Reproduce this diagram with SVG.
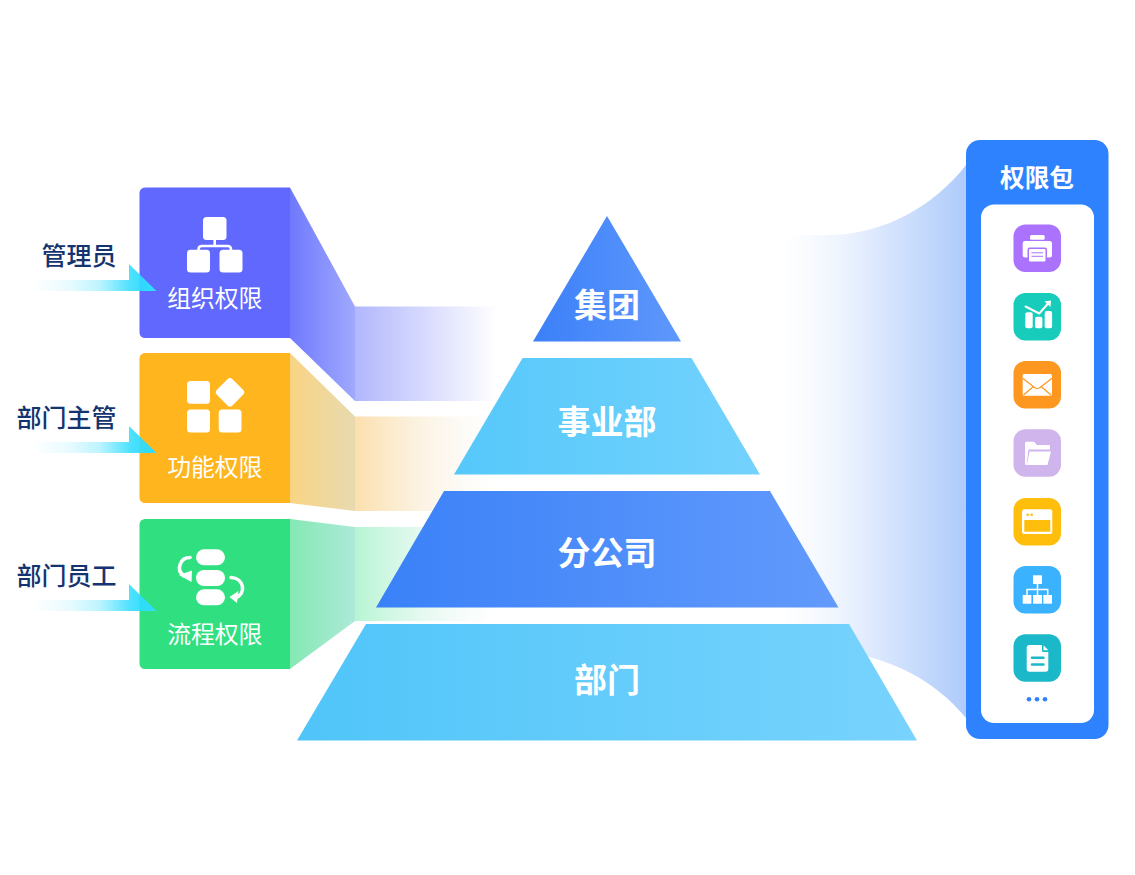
<svg xmlns="http://www.w3.org/2000/svg" width="1135" height="875" viewBox="0 0 1135 875">
<style>
text{font-family:"Noto Sans CJK SC","Noto Sans",sans-serif;text-anchor:middle}
.role{font-size:25px;font-weight:500;fill:#14346f}
.perm{font-size:23.8px;fill:#fff}
.tier{font-size:33px;font-weight:700;fill:#fff}
.w{fill:#fff}
.ws{fill:none;stroke:#fff;stroke-linecap:round;stroke-linejoin:round}
</style>
<defs>
<linearGradient id="gFan1" gradientUnits="userSpaceOnUse" x1="290" y1="0" x2="355" y2="0"><stop offset="0" stop-color="#6f79fd"/><stop offset="1" stop-color="#a0a9fd"/></linearGradient>
<linearGradient id="gBand1" gradientUnits="userSpaceOnUse" x1="355" y1="0" x2="497" y2="0"><stop offset="0" stop-color="#b1b7fc"/><stop offset="1" stop-color="#b1b7fc" stop-opacity="0"/></linearGradient>
<linearGradient id="gFan2" gradientUnits="userSpaceOnUse" x1="290" y1="0" x2="355" y2="0"><stop offset="0" stop-color="#f9d483"/><stop offset="1" stop-color="#e7dab0"/></linearGradient>
<linearGradient id="gBand2" gradientUnits="userSpaceOnUse" x1="355" y1="0" x2="497" y2="0"><stop offset="0" stop-color="#fcdfac"/><stop offset="1" stop-color="#f5f2ea" stop-opacity="0"/></linearGradient>
<linearGradient id="gFan3" gradientUnits="userSpaceOnUse" x1="290" y1="0" x2="355" y2="0"><stop offset="0" stop-color="#84e9b4"/><stop offset="1" stop-color="#ade9d8"/></linearGradient>
<linearGradient id="gBand3" gradientUnits="userSpaceOnUse" x1="355" y1="0" x2="497" y2="0"><stop offset="0" stop-color="#b6f5d3"/><stop offset="1" stop-color="#e8f3f3" stop-opacity="0"/></linearGradient>
<linearGradient id="gGlow" gradientUnits="userSpaceOnUse" x1="785" y1="0" x2="966" y2="0"><stop offset="0" stop-color="#aecbfb" stop-opacity="0"/><stop offset="0.3" stop-color="#aecbfb" stop-opacity="0.2"/><stop offset="1" stop-color="#aecbfb"/></linearGradient>
<linearGradient id="gArrow" gradientUnits="userSpaceOnUse" x1="33" y1="0" x2="150" y2="0"><stop offset="0" stop-color="#2fdcfe" stop-opacity="0"/><stop offset="0.32" stop-color="#2fdcfe" stop-opacity="0.12"/><stop offset="0.57" stop-color="#2fdcfe" stop-opacity="0.32"/><stop offset="0.83" stop-color="#2fdcfe" stop-opacity="0.85"/><stop offset="1" stop-color="#2fdcfe"/></linearGradient>
<linearGradient id="gT1" gradientUnits="userSpaceOnUse" x1="533" y1="0" x2="681" y2="0"><stop offset="0" stop-color="#3b80f9"/><stop offset="1" stop-color="#5f98fc"/></linearGradient>
<linearGradient id="gT2" gradientUnits="userSpaceOnUse" x1="454" y1="0" x2="760" y2="0"><stop offset="0" stop-color="#55c8fa"/><stop offset="1" stop-color="#74d2fd"/></linearGradient>
<linearGradient id="gT3" gradientUnits="userSpaceOnUse" x1="376" y1="0" x2="838" y2="0"><stop offset="0" stop-color="#3a81f8"/><stop offset="1" stop-color="#629afc"/></linearGradient>
<linearGradient id="gT4" gradientUnits="userSpaceOnUse" x1="297" y1="0" x2="917" y2="0"><stop offset="0" stop-color="#50c5f9"/><stop offset="1" stop-color="#78d3fd"/></linearGradient>
<path id="arrow" d="M33 280H129V264L156.500 291H33Z" fill="url(#gArrow)"/>
</defs>

<g id="connectors">
<path d="M785 235H827C885 235 935 205 966 165V718C935 680 885 652 820 650H785Z" fill="url(#gGlow)"/>
<path d="M355 306.500H497V401H355Z" fill="url(#gBand1)"/>
<path d="M290 187.500L355 306.500V401L290 338Z" fill="url(#gFan1)"/>
<path d="M355 416.500H497V511H355Z" fill="url(#gBand2)"/>
<path d="M290 353L355 416.500V511L290 503Z" fill="url(#gFan2)"/>
<path d="M355 527H497V621H355Z" fill="url(#gBand3)"/>
<path d="M290 519L355 527V621L290 669Z" fill="url(#gFan3)"/>
</g>

<g id="tier-jituan"><path d="M607 216L681 341.500H533Z" fill="url(#gT1)"/><text class="tier" x="607" y="317">集团</text></g>
<g id="tier-shiyebu"><path d="M522.500 358H691.500L760 474.500H454Z" fill="url(#gT2)"/><text class="tier" x="607" y="433.500">事业部</text></g>
<g id="tier-fengongsi"><path d="M444 491H770L838.500 607.500H376Z" fill="url(#gT3)"/><text class="tier" x="607" y="565">分公司</text></g>
<g id="tier-bumen"><path d="M366 624H849L917 740.500H297Z" fill="url(#gT4)"/><text class="tier" x="607" y="692">部门</text></g>

<g id="card-org">
<path d="M145 187.500H290V338H145A5.500 5.500 0 0 1 139.500 332.500V193A5.500 5.500 0 0 1 145 187.500Z" fill="#6068fd"/>
<rect class="w" x="203" y="217" width="23.500" height="23" rx="3.500"/>
<rect class="w" x="187" y="249.700" width="23" height="22.800" rx="3.500"/>
<rect class="w" x="219.500" y="249.700" width="23" height="22.800" rx="3.500"/>
<path class="ws" stroke-width="2.600" d="M214.700 240V246M198.500 251V249.500Q198.500 246 202 246H227.500Q231 246 231 249.500V251"/>
<text class="perm" x="214.800" y="307">组织权限</text>
</g>
<g id="card-func">
<path d="M145 353H290V503H145A5.500 5.500 0 0 1 139.500 497.500V358.500A5.500 5.500 0 0 1 145 353Z" fill="#ffb61e"/>
<rect class="w" x="187" y="381" width="23" height="22.800" rx="3.500"/>
<rect class="w" x="187" y="409.600" width="23" height="22.800" rx="3.500"/>
<rect class="w" x="218.700" y="409.600" width="22.800" height="22.800" rx="3.500"/>
<rect class="w" x="219" y="381.300" width="22" height="22" rx="3.500" transform="rotate(45 230 392.300)"/>
<text class="perm" x="214.800" y="476">功能权限</text>
</g>
<g id="card-flow">
<path d="M145 519H290V669H145A5.500 5.500 0 0 1 139.500 663.500V524.500A5.500 5.500 0 0 1 145 519Z" fill="#30df80"/>
<rect class="w" x="196" y="549.300" width="29" height="16" rx="8"/>
<rect class="w" x="196" y="570" width="29" height="16" rx="8"/>
<rect class="w" x="196" y="589.300" width="29" height="16" rx="8"/>
<path class="ws" stroke-width="3.600" stroke-linecap="butt" d="M190 557.500C180 557.500 175.500 570 184 576"/>
<path class="w" d="M179 575L192 570.500L191.500 582Z"/>
<path class="ws" stroke-width="3.600" stroke-linecap="butt" d="M231 577.500C244 578 247 594 235 598"/>
<path class="w" d="M229.500 597L238.500 591L237 603Z"/>
<text class="perm" x="214.800" y="643">流程权限</text>
</g>

<g id="role-admin"><text class="role" x="79" y="265">管理员</text><use href="#arrow"/></g>
<g id="role-manager"><text class="role" x="66.500" y="427">部门主管</text><use href="#arrow" y="162"/></g>
<g id="role-staff"><text class="role" x="66.500" y="585">部门员工</text><use href="#arrow" y="320"/></g>

<g id="permission-pack">
<rect x="966" y="140" width="142.500" height="599" rx="14" fill="#2f82fe"/>
<rect x="981" y="204.500" width="113" height="518.500" rx="13" fill="#fff"/>
<text x="1037" y="186.500" font-size="24.700" font-weight="700" fill="#fff">权限包</text>
<circle cx="1029" cy="699.200" r="2.300" fill="#2f82fe"/><circle cx="1037" cy="699.200" r="2.300" fill="#2f82fe"/><circle cx="1045" cy="699.200" r="2.300" fill="#2f82fe"/>
</g>
<g id="icon-printer">
<rect x="1013.500" y="224.500" width="47.500" height="47.500" rx="12" fill="#aa72fd"/>
<rect class="w" x="1030" y="235" width="14.700" height="4.700" rx="1.500"/>
<rect class="w" x="1022.700" y="241" width="29.300" height="16.500" rx="2.500"/>
<rect x="1027.500" y="247.500" width="19.500" height="15" rx="2" fill="#aa72fd"/>
<rect class="w" x="1029" y="249" width="16.500" height="12.500" rx="1"/>
<path d="M1031.500 252.800H1043M1031.500 256.300H1043" stroke="#aa72fd" fill="none"/>
</g>
<g id="icon-chart">
<rect x="1013.500" y="293" width="47.500" height="47.500" rx="12" fill="#17ccbb"/>
<rect class="w" x="1025.300" y="312.300" width="7.400" height="16" rx="2"/>
<rect class="w" x="1035" y="316.700" width="7.400" height="11.600" rx="2"/>
<rect class="w" x="1044.700" y="311" width="7.400" height="17.300" rx="2"/>
<path class="ws" stroke-width="2" d="M1025.500 306.500L1039.300 313.500L1048.500 303"/>
<path class="w" d="M1044.500 301.500L1051 300.500L1050.500 307Z"/>
</g>
<g id="icon-mail">
<rect x="1013.500" y="361" width="47.500" height="47.500" rx="12" fill="#fd9720"/>
<rect class="w" x="1022.700" y="374" width="29.300" height="21.700" rx="1.500"/>
<path d="M1022.700 378.300L1034.500 387.500Q1037.300 389.500 1040 387.500L1052 378.300M1023.500 395L1033.500 386.500M1051 395L1041 386.500" stroke="#fd9720" stroke-width="1.200" fill="none"/>
</g>
<g id="icon-folder">
<rect x="1013.500" y="429.300" width="47.500" height="47.500" rx="12" fill="#cfb5ec"/>
<path class="w" d="M1025 443Q1025 441.700 1026.300 441.700H1034L1037 445H1049Q1050 445 1050 446V449.500H1028.500L1026.500 465H1025Z"/>
<path class="w" d="M1029.500 451.500H1051L1047.500 465H1026.800Z"/>
</g>
<g id="icon-window">
<rect x="1013.500" y="498" width="47.500" height="47.500" rx="12" fill="#ffbe0b"/>
<rect class="w" x="1022" y="509.300" width="30.300" height="24.700" rx="2.500"/>
<rect x="1024.300" y="520" width="26" height="11.700" fill="#ffbe0b"/>
<circle cx="1027.700" cy="514.700" r="1.300" fill="#ffbe0b"/><circle cx="1031.700" cy="514.700" r="1.300" fill="#ffbe0b"/>
</g>
<g id="icon-orgchart">
<rect x="1013.500" y="566" width="47.500" height="47.500" rx="12" fill="#3bb2fd"/>
<rect class="w" x="1033" y="575.300" width="9" height="8.700"/>
<rect class="w" x="1022.700" y="595" width="8.700" height="8.700"/>
<rect class="w" x="1033" y="595" width="9" height="8.700"/>
<rect class="w" x="1043.300" y="595" width="8.700" height="8.700"/>
<path d="M1037.500 584V595M1027 595V589.500H1047.700V595" stroke="#fff" stroke-width="1.500" fill="none"/>
</g>
<g id="icon-doc">
<rect x="1013.500" y="634.300" width="47.500" height="47.500" rx="12" fill="#1ab8c8"/>
<path class="w" d="M1029 645H1042V650.500Q1042 652 1043.500 652H1048.300V669Q1048.300 671.700 1045.600 671.700H1029.400Q1026.700 671.700 1026.700 669V647.500Q1026.700 645 1029 645Z"/>
<path class="w" d="M1043.500 645.300L1048.300 650.300H1043.500Z"/>
<path d="M1032 657.800H1043.500M1032 664.500H1043.500" stroke="#1ab8c8" stroke-width="2.400" stroke-linecap="round" fill="none"/>
</g>
</svg>
